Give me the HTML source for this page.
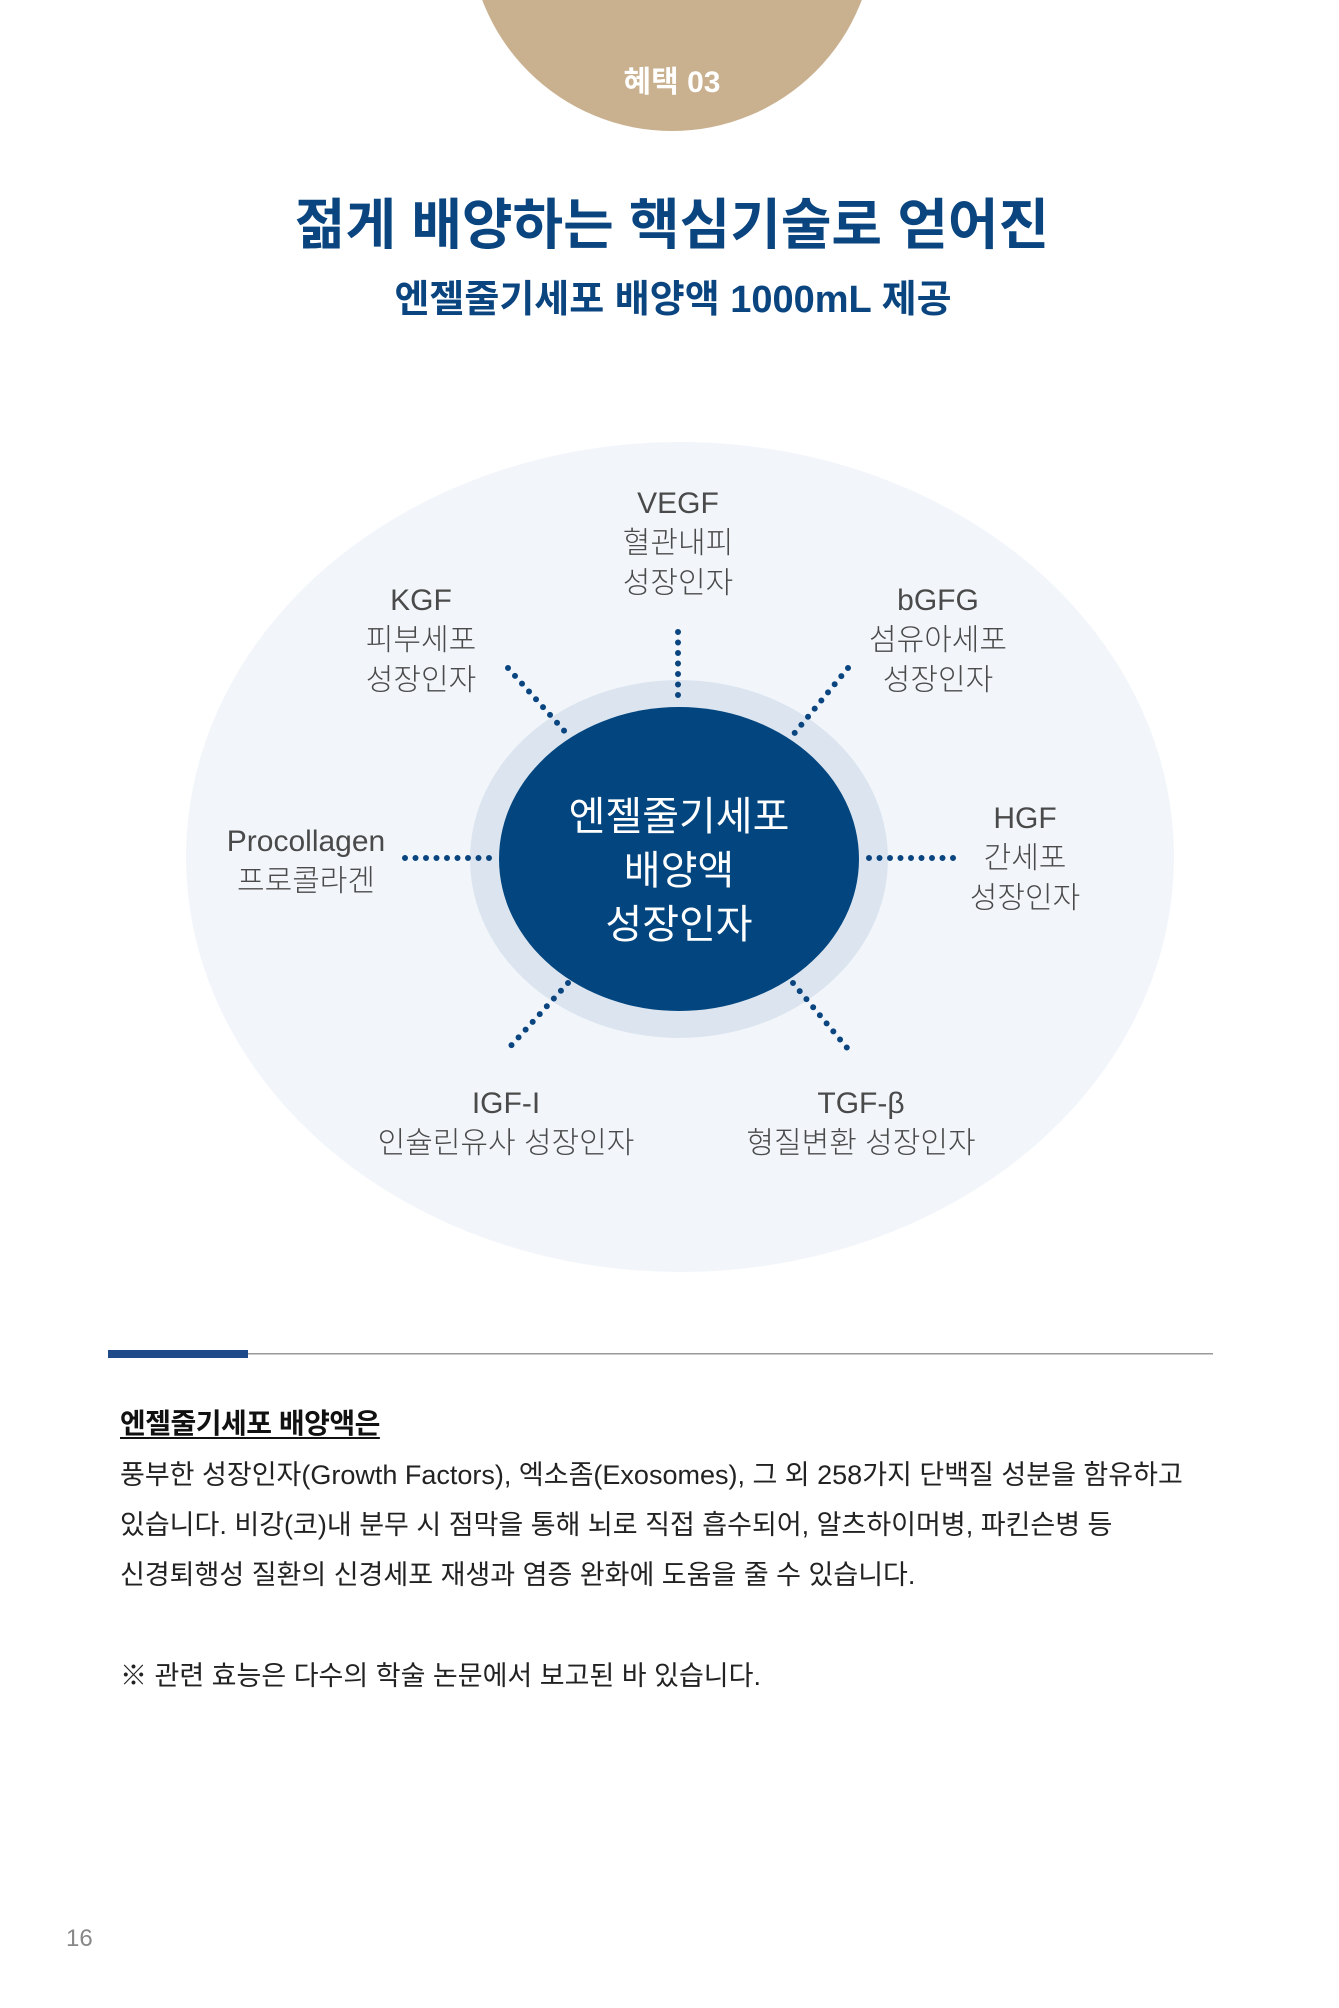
<!DOCTYPE html>
<html><head><meta charset="utf-8"><style>
html,body{margin:0;padding:0;background:#fff;}
body{width:1339px;height:2008px;position:relative;overflow:hidden;font-family:"Liberation Sans","Noto Sans CJK KR",sans-serif;}
.t{position:absolute;white-space:nowrap;}
.c{transform:translateX(-50%);text-align:center;}
.lbl{font-size:30px;color:#4a4a4a;line-height:40px;font-weight:300;letter-spacing:0px;}
.body{font-size:27px;color:#222;letter-spacing:0px;left:120px;}
</style></head><body>
<svg width="1339" height="2008" style="position:absolute;left:0;top:0">
<circle cx="672" cy="-72" r="203" fill="#c9b08f"/>
<ellipse cx="680" cy="857" rx="494" ry="415" fill="#f2f6fb"/>
<ellipse cx="679" cy="859" rx="209" ry="179" fill="#dce5ef"/>
<ellipse cx="679" cy="859" rx="180" ry="152" fill="#02457f"/>
<g stroke="#0a4580" stroke-width="6" stroke-linecap="round" stroke-dasharray="0 10.5" fill="none">
<line x1="678" y1="632" x2="678" y2="704"/>
<line x1="508" y1="668" x2="568" y2="735"/>
<line x1="848" y1="668" x2="793" y2="735"/>
<line x1="405" y1="858" x2="491" y2="858"/>
<line x1="869" y1="858" x2="955" y2="858"/>
<line x1="568" y1="983" x2="508" y2="1049"/>
<line x1="793" y1="983" x2="848" y2="1049"/>
</g>
<rect x="108" y="1350" width="140" height="8" fill="#1f4a8a"/>
<rect x="248" y="1353" width="965" height="1.5" fill="#999"/>
</svg>
<div class="t c" style="left:672px;top:57px;font-size:30px;font-weight:bold;color:#fff;">혜택 03</div>
<div class="t c" style="left:672px;top:180px;font-size:55px;font-weight:bold;color:#0a4580;letter-spacing:0px;">젊게 배양하는 핵심기술로 얻어진</div>
<div class="t c" style="left:673px;top:268px;font-size:38px;font-weight:bold;color:#0a4580;letter-spacing:0px;">엔젤줄기세포 배양액 1000mL 제공</div>

<div class="t c" style="left:679px;top:790px;font-size:40px;color:#fff;line-height:54px;">엔젤줄기세포<br>배양액<br>성장인자</div>

<div class="t c lbl" style="left:678px;top:484px;">VEGF<br>혈관내피<br>성장인자</div>
<div class="t c lbl" style="left:421px;top:581px;">KGF<br>피부세포<br>성장인자</div>
<div class="t c lbl" style="left:938px;top:581px;">bGFG<br>섬유아세포<br>성장인자</div>
<div class="t c lbl" style="left:306px;top:822px;">Procollagen<br>프로콜라겐</div>
<div class="t c lbl" style="left:1025px;top:799px;">HGF<br>간세포<br>성장인자</div>
<div class="t c lbl" style="left:506px;top:1084px;">IGF-I<br>인슐린유사 성장인자</div>
<div class="t c lbl" style="left:861px;top:1084px;">TGF-β<br>형질변환 성장인자</div>

<div class="t" style="left:120px;top:1402px;font-size:28px;font-weight:bold;color:#111;text-decoration:underline;text-underline-offset:4px;letter-spacing:-0.5px;">엔젤줄기세포 배양액은</div>
<div class="t body" style="top:1453px;">풍부한 성장인자(Growth Factors), 엑소좀(Exosomes), 그 외 258가지 단백질 성분을 함유하고</div>
<div class="t body" style="top:1503px;">있습니다. 비강(코)내 분무 시 점막을 통해 뇌로 직접 흡수되어, 알츠하이머병, 파킨슨병 등</div>
<div class="t body" style="top:1553px;">신경퇴행성 질환의 신경세포 재생과 염증 완화에 도움을 줄 수 있습니다.</div>
<div class="t body" style="top:1654px;">※ 관련 효능은 다수의 학술 논문에서 보고된 바 있습니다.</div>
<div class="t" style="left:66px;top:1925px;font-size:24px;color:#888;">16</div>
</body></html>
